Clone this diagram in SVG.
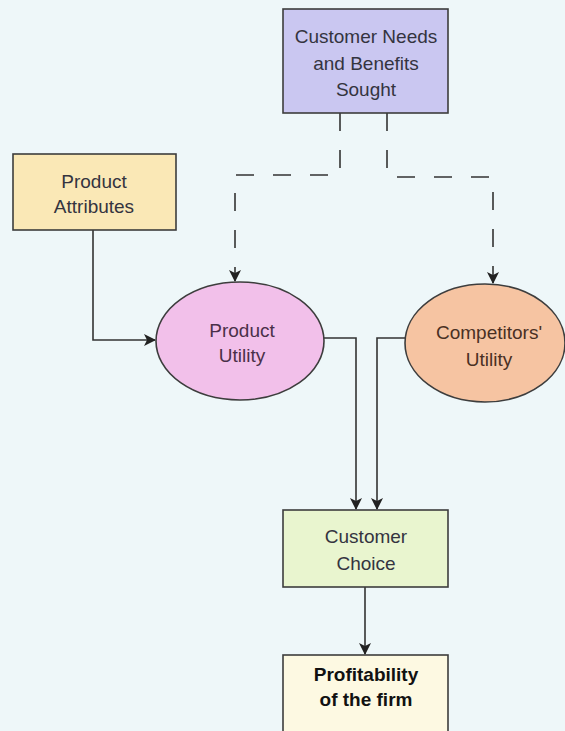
<svg xmlns="http://www.w3.org/2000/svg" width="565" height="731" viewBox="0 0 565 731">
<defs>
<style>
.box{stroke:#3d3d3d;stroke-width:1.6}
.lbl{font-family:"Liberation Sans",Arial,sans-serif;font-size:19px;text-anchor:middle;fill:#34343f}
.b{font-weight:bold;fill:#111}
.con{fill:none;stroke:#333;stroke-width:1.6}
.dash{stroke-dasharray:18 19}
</style>
<marker id="ah" viewBox="0 0 12 12" refX="11" refY="6" markerWidth="12" markerHeight="12" markerUnits="userSpaceOnUse" orient="auto">
<path d="M0,0 L12,6 L0,12 L3,6 Z" fill="#222"/>
</marker>
</defs>
<rect width="565" height="731" fill="#eef7f9"/>
<g id="connectors">
<path class="con dash" d="M340,113 V175 H235 V281" marker-end="url(#ah)"/>
<path class="con dash" d="M387,113 V177 H493 V283" marker-end="url(#ah)"/>
<path class="con" d="M93,230 V340 H155" marker-end="url(#ah)"/>
<path class="con" d="M324,338 H356 V509" marker-end="url(#ah)"/>
<path class="con" d="M405,338 H377 V509" marker-end="url(#ah)"/>
<path class="con" d="M365,587 V654" marker-end="url(#ah)"/>
</g>
<g id="needs">
<rect class="box" x="283" y="9" width="165" height="104" fill="#cac7f1"/>
<text class="lbl" x="366" y="43">Customer Needs</text>
<text class="lbl" x="366" y="70">and Benefits</text>
<text class="lbl" x="366" y="96">Sought</text>
</g>
<g id="attributes">
<rect class="box" x="13" y="154" width="163" height="76" fill="#fae8b6"/>
<text class="lbl" x="94" y="188">Product</text>
<text class="lbl" x="94" y="213">Attributes</text>
</g>
<g id="product-utility">
<ellipse class="box" cx="240" cy="341" rx="84" ry="59" fill="#f2c0ea"/>
<text class="lbl" x="242" y="337" style="fill:#4a3049">Product</text>
<text class="lbl" x="242" y="362" style="fill:#4a3049">Utility</text>
</g>
<g id="competitors-utility">
<ellipse class="box" cx="485" cy="343" rx="80" ry="59" fill="#f6c4a2"/>
<text class="lbl" x="489" y="339" style="fill:#4a3024">Competitors'</text>
<text class="lbl" x="489" y="366" style="fill:#4a3024">Utility</text>
</g>
<g id="choice">
<rect class="box" x="283" y="510" width="165" height="77" fill="#e9f5cf"/>
<text class="lbl" x="366" y="543">Customer</text>
<text class="lbl" x="366" y="570">Choice</text>
</g>
<g id="profitability">
<rect class="box" x="283" y="655" width="165" height="80" fill="#fdf9e2"/>
<text class="lbl b" x="366" y="681">Profitability</text>
<text class="lbl b" x="366" y="706">of the firm</text>
</g>
</svg>
